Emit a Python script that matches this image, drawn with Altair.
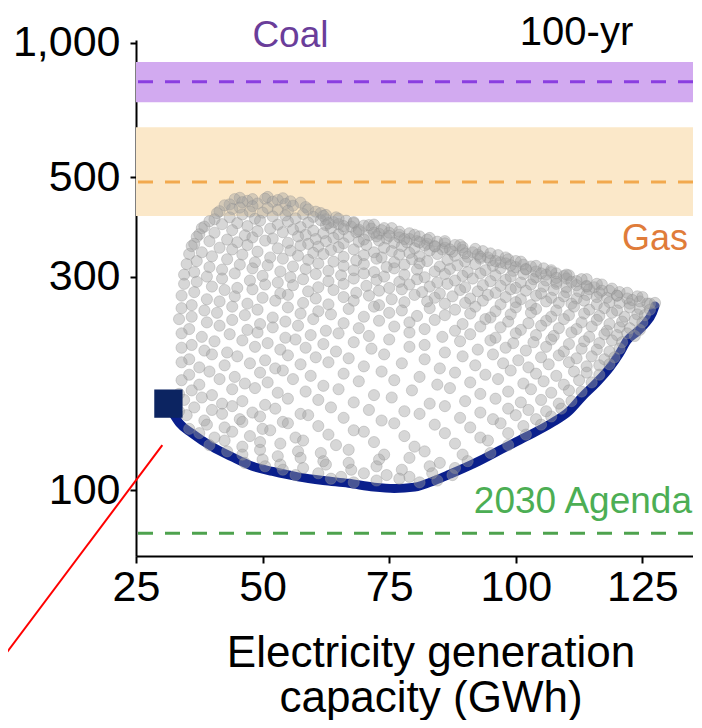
import altair as alt
import pandas as pd

# ---------------- data ----------------
band_names = ["Coal", "Gas"]
band_low = [736, 410]
band_mid = [818, 488]
band_high = [905, 647]
agenda_target = [80]

x_ticks = [25, 50, 75, 100, 125]
y_ticks = [100, 300, 500, 1000]

front_x = [32.5, 33.6, 36, 40, 44, 48, 52, 57, 62, 67, 72, 76, 80, 84, 87, 92, 97,
           102, 107, 110.5, 113.2, 116, 118.6, 120.5, 122, 124, 125.5, 127, 127.5]
front_y = [147, 141, 134, 125, 118.5, 113, 110, 107, 105, 103.5, 101.5, 100.8, 101.5,
           105, 108.5, 115, 123, 131.5, 141, 150, 162, 174, 188, 202, 216, 226, 235, 249, 258]

square_x = [31.4]
square_y = [156]

pointer_x = [-0.4, 30.2]
pointer_y = [43.5, 126]

# rows of the grey cloud: (row level, x positions, small offsets of each point from the row level)
cloud_top = [
    (450, [45.5, 48, 51, 54], [0, -3, 2, -1]),
    (445, [44.5, 47, 50.5, 53, 55.5], [2, -2, 3, 0, -3]),
    (438, [43.5, 46, 49, 52, 54.5, 57.5], [-3, 2, -1, 3, -2, 1]),
    (430, [42.5, 45.5, 48, 51, 56, 58.5], [3, -2, 1, -3, 2, -1]),
    (422, [41.5, 44, 47.5, 53, 55, 59, 60.5], [-2, 3, -3, 1, -1, 2, -3]),
    (414, [41, 46, 50, 54.5, 58, 61.5, 62.5], [2, -1, 3, -3, 0, 2, -2]),
    (406, [40.5, 43.5, 48.5, 52, 56.5, 60, 62.5, 64.5], [-3, 1, -2, 3, -1, 2, -3, 1]),
    (398, [39.5, 45, 49.5, 55, 59, 61.5, 64, 66.5, 68], [1, -3, 2, 0, -2, 3, -1, 2, -3]),
    (390, [38.5, 42, 47, 53, 57.5, 62.5, 65, 67.5, 70, 72], [-2, 3, -1, 2, -3, 1, 3, -2, 0, 2]),
    (382, [38, 44, 49, 51.5, 56, 60, 63.5, 66, 69, 71.5, 73.5, 75.5], [3, -1, -3, 2, 0, -2, 3, 1, -3, 2, -1, 3]),
    (374, [37.5, 40.5, 46.5, 54, 58.5, 62, 65, 68.5, 71, 73, 75, 77, 79], [-1, 2, -3, 3, -2, 1, -1, 3, -3, 0, 2, -2, 1]),
    (366, [37, 43, 48, 52, 57, 60.5, 64, 67, 70, 72.5, 74.5, 77, 79, 81, 82.5], [2, -3, 1, -1, 3, -2, 0, 2, -3, 3, -1, 1, -2, 3, -3]),
    (358, [36.5, 39.5, 45, 50.5, 55, 59, 62.5, 66, 69, 73, 76, 78.5, 80.5, 82.5, 84.5, 86], [-3, 2, 0, 3, -1, -3, 2, -2, 1, 3, -1, 0, 2, -3, 1, -2]),
    (350, [36, 41.5, 47, 53, 57.5, 61, 65, 70.5, 74, 77.5, 80, 82, 84, 86, 88, 89.5], [1, -2, 3, -3, 2, 0, -1, 3, -2, 1, -3, 2, 0, -2, 3, -1]),
]

cloud_upper = [
    (342, [38, 44, 49, 55.5, 60, 63.5, 68, 72, 75.5, 79, 83, 85.5, 87.5, 89.5, 91.5, 93.5], [-2, 3, -1, 1, -3, 2, 3, -2, 0, -3, 1, 3, -1, 2, -2, 0]),
    (334, [35.5, 40, 46, 51.5, 57, 62, 66, 70, 73.5, 77, 81, 84.5, 88, 90.5, 92.5, 94.5, 96.5], [3, -1, 2, -3, 0, 3, -2, 1, -3, 2, -1, 3, 0, -2, 2, -3, 1]),
    (326, [37, 43, 48.5, 54, 59, 64, 68.5, 72.5, 76, 79.5, 82.5, 86.5, 90, 93, 95, 97, 98.5, 100], [-1, 2, -3, 3, 1, -2, 0, 3, -3, 2, -1, 1, -2, 3, 0, -3, 2, -1]),
    (318, [35, 39.5, 45.5, 51, 56, 61, 66, 70, 74.5, 78, 81, 85, 88.5, 92, 95.5, 98, 100, 101.5, 103], [2, -3, 1, 0, -2, 3, -1, 2, -3, 1, 3, -2, 0, 2, -1, 3, -3, 1, -2]),
    (310, [36.5, 42, 48, 53.5, 58.5, 63, 68, 72, 76, 80.5, 84, 87, 90.5, 94, 97, 99.5, 102, 104, 105.5, 107], [-3, 1, 3, -2, 2, -1, 0, -3, 3, 1, -2, 2, -3, 0, 3, -1, 1, -2, 3, -3]),
    (302, [34.5, 39, 44.5, 50, 55.5, 60.5, 65.5, 70, 74, 78, 82, 86, 89.5, 93, 96, 99, 101.5, 104, 106, 108, 109.5, 110.5], [1, -2, 3, -1, -3, 2, 0, 3, -2, 1, -3, 2, -1, 3, 0, -2, 2, -3, 1, 3, -1, 0]),
    (294, [37, 42, 47.5, 53, 58, 63, 68, 72.5, 77, 80.5, 84.5, 88, 91.5, 95, 98, 101, 103.5, 106, 108, 110, 112, 114], [-2, 3, 0, -3, 2, -1, 3, 1, -2, 2, -3, 0, 3, -1, 1, -3, 2, 0, -2, 3, -1, 2]),
    (286, [34.5, 40, 45, 50.5, 56, 61, 66, 70.5, 75, 79, 83, 86.5, 90, 93.5, 97, 100, 103, 105.5, 108, 110, 112, 114, 115.5, 117], [3, -1, -3, 2, 1, -2, 3, 0, -3, 2, -1, 3, -2, 1, 0, -3, 2, -1, 3, -2, 1, 0, -2, 2]),
    (278, [36.5, 42.5, 48, 53.5, 59, 64, 68.5, 73, 77.5, 81.5, 85, 89, 92.5, 96, 99, 102, 105, 107.5, 110, 112.5, 114.5, 116.5, 118.5, 120.5], [-1, 2, 3, -3, 0, 2, -2, 1, 3, -1, -3, 2, 0, -2, 3, 1, -3, 2, -1, 0, 3, -2, 1, -1]),
    (270, [34, 39, 44.5, 50, 55, 60.5, 66, 71, 75.5, 80, 84, 87.5, 91, 94.5, 98, 101, 104, 107, 109.5, 112, 114, 116, 118, 120, 122, 124], [2, -3, 1, -1, 3, -2, 0, 2, -3, 3, -1, 1, -2, 3, 0, -3, 2, -1, 1, -2, 3, 0, -1, 2, -2, 1]),
    (262, [36, 41.5, 47, 52.5, 58, 63, 68, 73, 78, 82.5, 86, 90, 93.5, 97, 100, 103, 106, 108.5, 111, 113.5, 116, 118.5, 120.5, 122.5, 124.5, 126.5, 127.5], [-3, 2, -1, 3, 0, -2, 3, -3, 1, 2, -1, 0, 3, -2, 1, -3, 2, 0, -1, 3, -2, 1, 0, -1, 2, -1, 0]),
]

cloud_middle = [
    (254, [34, 38.5, 44, 49, 55, 61, 67, 72, 77.5, 83, 88, 92, 96, 100, 104, 108, 111.5, 114.5, 117.5, 120, 122.5, 124.5, 126.5], [1, -2, 3, -1, 2, -3, 0, 3, -2, 1, -1, 3, -3, 2, 0, -2, 3, -1, 1, -2, 2, 0, -1]),
    (246, [36, 41, 46.5, 52, 57.5, 63.5, 70, 75, 80.5, 86, 91, 95, 99, 103, 107, 110.5, 113.5, 116.5, 119, 121.5, 124, 125.5], [-2, 3, 0, -3, 2, 1, -2, 3, -1, 0, 2, -3, 1, 3, -2, 0, 2, -1, 3, -2, 1, 0]),
    (238, [33.5, 39, 44, 49.5, 54.5, 60, 66, 73, 79, 84, 89.5, 94, 98.5, 102.5, 106, 109.5, 113, 116, 118.5, 121, 123.5, 125], [3, -1, 2, -3, 0, 3, -2, 1, -1, 2, -3, 3, 0, -2, 1, 3, -1, 2, -3, 0, 2, -1]),
    (230, [35.5, 41.5, 47, 52, 57, 62.5, 69, 76, 82, 88, 93, 97, 101, 105, 108.5, 112, 115, 118, 120.5, 122.5, 124.5], [-1, 3, -2, 1, 3, -3, 0, 2, -1, -3, 2, 1, -2, 3, 0, -1, 2, -3, 1, 0, -2]),
    (222, [34, 38, 43.5, 49, 54.5, 59.5, 65, 71, 79, 85.5, 91, 96, 100, 104, 107.5, 111, 114.5, 117.5, 120, 122, 123.5], [2, -2, 1, 3, -3, 0, 2, -1, 3, -2, 1, -3, 2, 0, -1, 3, -2, 1, 0, 2, -1]),
    (214, [36, 40.5, 46, 51, 56.5, 62, 68, 75, 82, 89, 95, 99.5, 103.5, 107, 110.5, 113.5, 116.5, 119, 121], [-3, 1, 2, -1, 3, -2, 0, 3, -3, 1, 2, -1, 0, 3, -2, 1, -1, 2, 0]),
    (206, [34, 38.5, 43, 48.5, 53.5, 58.5, 64.5, 71.5, 79, 86, 92.5, 98, 102, 106, 109.5, 113, 116, 118.5, 120.5], [2, -1, -3, 3, 0, 2, -2, 1, 3, -3, 0, 2, -1, 3, -2, 1, 0, -2, 1]),
    (198, [35.5, 40, 45, 50.5, 55, 60.5, 67, 74, 82, 89.5, 95.5, 100.5, 105, 108.5, 112, 115, 117.5, 119.5], [-2, 3, 1, -3, 2, 0, -1, 3, -2, 1, 3, -3, 0, 2, -1, 1, -2, 0]),
    (190, [34, 37.5, 42.5, 47.5, 52.5, 57.5, 63, 70, 77.5, 85, 92, 97.5, 102.5, 106.5, 110.5, 114, 116.5, 118.5], [3, -2, 0, 2, -3, 1, 3, -1, 2, -3, 0, 2, -2, 1, 3, -1, 0, 1]),
    (182, [35.5, 39.5, 44.5, 49.5, 54, 59.5, 66, 73.5, 81, 88, 94, 99, 104, 108, 111.5, 114, 116.5], [-1, 2, -3, 1, 3, -2, 0, 2, -3, 1, -1, 3, 0, -2, 2, 1, -1]),
]

cloud_lower = [
    (174, [34, 37.5, 41.5, 46.5, 51, 56, 62, 69, 76, 84.5, 91, 96.5, 101.5, 105.5, 109.5, 112.5, 115], [2, -2, 3, -1, 0, 3, -3, 1, 2, -2, 0, 3, -1, 1, -2, 2, 0]),
    (166, [33.5, 36, 40, 44, 48.5, 53, 58.5, 65, 72, 79.5, 87, 93, 98.5, 103, 107, 110.5, 113], [-2, 1, -3, 2, 3, -1, 0, 2, -3, 1, 3, -2, 0, 2, -1, 1, 0]),
    (158, [34.5, 38, 42, 46, 50.5, 55, 61, 68, 75.5, 83, 90, 96, 101, 105, 108.5, 111], [1, 3, -2, 0, -3, 2, 1, -1, 3, -2, 0, 2, -1, 1, -2, 0]),
    (151, [33.5, 36.5, 40, 44, 48, 52.5, 57.5, 63.5, 71, 78, 86, 93, 98.5, 102.5, 106, 109], [-1, 2, 0, 3, -2, 1, -3, 2, 0, -1, 3, -2, 1, 0, -1, 1]),
    (145, [35, 38.5, 42, 45.5, 49.5, 54, 59, 66, 73.5, 81, 89, 95.5, 100, 104, 107], [2, -2, 3, -1, 1, -3, 2, 0, -2, 3, 0, -1, 2, -1, 1]),
    (139, [35.5, 39, 42.5, 46, 50, 55, 61, 68, 76, 84, 91, 97, 101.5, 105], [-2, 1, -1, 3, -2, 2, 0, -3, 2, 1, -1, 2, 0, 1]),
    (133, [37.5, 40.5, 44, 47.5, 51.5, 56.5, 63, 70, 78, 86, 93, 98.5, 102], [1, -2, 2, -1, 3, -2, 0, 2, -1, 1, -2, 1, 0]),
    (127, [39.5, 42.5, 46, 49.5, 53.5, 58, 64.5, 72, 80, 88, 94.5, 98.5], [-1, 2, -2, 1, 0, 2, -1, 1, -2, 0, 2, -1]),
    (121, [43, 46, 49.5, 53, 57, 61.5, 67, 74, 82, 89.5, 95], [1, -1, 2, -2, 1, 0, 2, -1, 1, -1, 0]),
    (116, [46.5, 50, 53.5, 57.5, 62, 67, 73, 79, 85, 90.5], [-1, 1, -2, 2, 0, -1, 1, 2, -1, 0]),
    (112, [50.5, 54, 58, 62.5, 67.5, 72.5, 77.5, 83, 88], [1, -1, 0, 2, -1, 1, -1, 1, 0]),
    (108, [56.5, 61, 65.5, 70, 74.5, 79, 83.5, 87.5], [0, 1, -1, 1, 0, -1, 1, 0]),
    (105, [63.5, 68, 72.5, 77, 81, 84.5], [1, -1, 0, 1, -1, 0]),
]

# the dense strip just under the upper-right edge of the cloud
edge_x = [62, 65, 68, 71, 74, 77, 80, 83, 86, 89, 92, 95, 98, 101, 104, 107, 110, 113, 116, 119, 122, 125,
          63, 66, 69, 72, 75, 78, 81, 84, 87, 90, 93, 96, 99, 102, 105, 108, 111, 114, 117, 120, 123, 126]
edge_y = [410, 404, 397, 391, 385, 378, 372, 366, 360, 353, 346, 338, 331, 324, 317, 310, 303, 296, 289, 282, 276, 270,
          395, 389, 382, 376, 370, 364, 358, 351, 345, 338, 332, 325, 318, 312, 305, 298, 292, 285, 279, 272, 266, 261]

# ---------------- tables ----------------
rows = []
for group in (cloud_top, cloud_upper, cloud_middle, cloud_lower):
    for level, xs, offs in group:
        for i, xv in enumerate(xs):
            off = offs[i] if i < len(offs) else 0
            rows.append({"x": xv, "y": level + off})
for xv, yv in zip(edge_x, edge_y):
    rows.append({"x": xv, "y": yv})
cloud_df = pd.DataFrame(rows)
front_df = pd.DataFrame({"x": front_x, "y": front_y})
band_df = pd.DataFrame({"name": band_names, "low": band_low, "mid": band_mid, "high": band_high})
agenda_df = pd.DataFrame({"y": agenda_target})
square_df = pd.DataFrame({"x": square_x, "y": square_y})
pointer_df = pd.DataFrame({"x": pointer_x, "y": pointer_y})

FONT = "Liberation Sans"
xscale = alt.Scale(domain=[25, 135], nice=False, zero=False)
yscale = alt.Scale(type="log", domain=[71.2, 1014], nice=False)

x_axis = alt.Axis(
    values=x_ticks, labelFontSize=43, labelPadding=3, tickSize=7, tickWidth=2,
    domainWidth=2, domainColor="black", tickColor="black", labelColor="black",
    grid=False, title=["Electricity generation", "capacity (GWh)"],
    titleFontSize=44, titleFontWeight="normal", titleColor="black",
    titleLineHeight=45, titleX=294.5, titleY=110, titleAlign="center",
    titleBaseline="alphabetic", labelFlush=False,
)
y_axis = alt.Axis(
    values=y_ticks, format=",", labelFontSize=43, labelPadding=10, tickSize=6,
    tickWidth=2, domainWidth=2, domainColor="black", tickColor="black",
    labelColor="black", grid=False, title=None, labelFlush=False,
)

band_colors = alt.Scale(domain=band_names, range=["#d2aaf0", "#fbe8c9"])

bands = alt.Chart(band_df).mark_rect(opacity=1).encode(
    x=alt.datum(25, scale=xscale, axis=x_axis),
    x2=alt.datum(135),
    y=alt.Y("low:Q", scale=yscale, axis=y_axis),
    y2="high:Q",
    color=alt.Color("name:N", scale=band_colors, legend=None),
)

coal_dash = alt.Chart(band_df).transform_filter(alt.datum.name == "Coal").mark_rule(
    strokeDash=[15, 12], strokeWidth=3, color="#8a3ee0"
).encode(y=alt.Y("mid:Q", scale=yscale))

gas_dash = alt.Chart(band_df).transform_filter(alt.datum.name == "Gas").mark_rule(
    strokeDash=[15, 12], strokeWidth=3, color="#f2a94e"
).encode(y=alt.Y("mid:Q", scale=yscale))

agenda = alt.Chart(agenda_df).mark_rule(strokeDash=[15, 12], strokeWidth=3, color="#4ea24e").encode(
    y=alt.Y("y:Q", scale=yscale),
)

front = alt.Chart(front_df).mark_line(color="#0a1f8c", strokeWidth=9, interpolate="monotone",
                                       strokeCap="round").encode(
    x=alt.X("x:Q", scale=xscale),
    y=alt.Y("y:Q", scale=yscale),
    order="x:Q",
)

cloud = alt.Chart(cloud_df).mark_circle(
    size=125, color="#a0a0a0", fillOpacity=0.42, stroke="#909090", strokeWidth=1,
    strokeOpacity=0.35,
).encode(
    x=alt.X("x:Q", scale=xscale),
    y=alt.Y("y:Q", scale=yscale),
)

square = alt.Chart(square_df).mark_square(size=800, color="#0c2461", opacity=1).encode(
    x=alt.X("x:Q", scale=xscale),
    y=alt.Y("y:Q", scale=yscale),
)

pointer = alt.Chart(pointer_df).mark_line(color="#ff0000", strokeWidth=2, clip=False).encode(
    x=alt.X("x:Q", scale=xscale),
    y=alt.Y("y:Q", scale=yscale),
)

def label(text, xv, yv, color, size, align):
    return alt.Chart(pd.DataFrame({"t": [text]})).mark_text(
        font=FONT, fontSize=size, color=color, align=align, baseline="alphabetic",
    ).encode(
        x=alt.datum(xv, scale=xscale),
        y=alt.datum(yv, scale=yscale),
        text="t:N",
    )

texts = (
    label("Coal", 55.5, 978, "#6a3d9a", 37, "center")
    + label("100-yr", 112, 990, "black", 40, "center")
    + label("Gas", 134, 344, "#e07c3a", 36, "right")
    + label("2030 Agenda", 134.8, 88.8, "#4cae54", 37, "right")
)

chart = alt.layer(bands, coal_dash, gas_dash, agenda, front, cloud, square, pointer, texts).properties(
    width=557, height=516,
    autosize=alt.AutoSizeParams(type="none"),
    padding={"left": 128, "top": 32, "right": 0, "bottom": 164},
).configure(font=FONT).configure_view(stroke=None)

chart.save("out.html", embed_options={"renderer": "svg", "actions": False})
